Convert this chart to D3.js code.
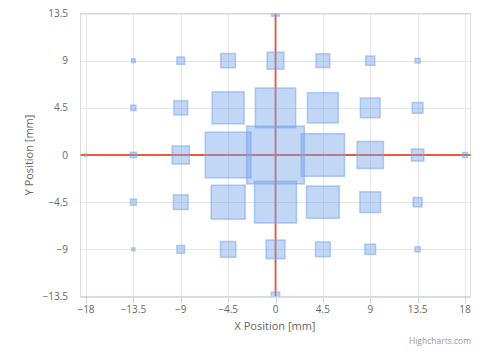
<!DOCTYPE html>
<html>
<head>
<meta charset="utf-8">
<script src="https://cdn.jsdelivr.net/npm/d3@7"></script>
<style>
  html, body { margin: 0; padding: 0; background: #fff; }
  svg { display: block; font-family: "Open Sans", "DejaVu Sans", sans-serif; }
</style>
</head>
<body>
<svg id="chart" width="487" height="354"></svg>
<script>
// ---- data (mm) ----
const xTicks = [-18, -13.5, -9, -4.5, 0, 4.5, 9, 13.5, 18];
const yTicks = [-13.5, -9, -4.5, 0, 4.5, 9, 13.5];

const pointX = [
  -13.5, -9, -4.5, 0, 4.5, 9, 13.5,
  -13.5, -9, -4.5, 0, 4.5, 9, 13.5,
  -18, -13.5, -9, -4.5, 0, 4.5, 9, 13.5, 18,
  -13.5, -9, -4.5, 0, 4.5, 9, 13.5,
  -13.5, -9, -4.5, 0, 4.5, 9, 13.5,
  0, 0
];
const pointY = [
  9, 9, 9, 9, 9, 9, 9,
  4.5, 4.5, 4.5, 4.5, 4.5, 4.5, 4.5,
  0, 0, 0, 0, 0, 0, 0, 0, 0,
  -4.5, -4.5, -4.5, -4.5, -4.5, -4.5, -4.5,
  -9, -9, -9, -9, -9, -9, -9,
  13.5, -13.5
];
const spotWidth = [
  0.35, 0.72, 1.39, 1.59, 1.30, 0.85, 0.47,
  0.50, 1.30, 3.04, 3.83, 2.92, 1.87, 1.02,
  0.20, 0.60, 1.64, 4.34, 5.48, 4.11, 2.50, 1.17, 0.47,
  0.57, 1.40, 3.23, 3.99, 3.11, 1.97, 0.85,
  0.28, 0.73, 1.45, 1.80, 1.40, 1.02, 0.47,
  0.73, 0.79
];
const spotHeight = [
  0.35, 0.70, 1.36, 1.62, 1.31, 0.89, 0.45,
  0.51, 1.34, 3.05, 3.79, 2.89, 1.88, 1.02,
  0.20, 0.51, 1.72, 4.36, 5.51, 4.06, 2.58, 1.15, 0.48,
  0.57, 1.40, 3.24, 3.98, 3.08, 1.98, 0.89,
  0.28, 0.73, 1.50, 1.78, 1.40, 0.98, 0.48,
  0.50, 0.84
];
const xTitle = "X Position [mm]";
const yTitle = "Y Position [mm]";
const credit = "Highcharts.com";

// ---- layout ----
const svg = d3.select("#chart");
const plot = { left: 80.5, right: 470.5, top: 13.5, bottom: 296.5 };

const x = d3.scaleLinear().domain([-18.5, 18.5]).range([80.75, 470.25]);
const y = d3.scaleLinear().domain([-13.5, 13.5]).range([296.5, 13.5]);

const fmt = v => (v < 0 ? "\u2212" + Math.abs(v) : String(v));

svg.append("defs").append("clipPath").attr("id", "clip")
  .append("rect")
  .attr("x", plot.left).attr("y", plot.top)
  .attr("width", plot.right - plot.left).attr("height", plot.bottom - plot.top);

// grid
const grid = svg.append("g");
grid.selectAll("line.vx").data(xTicks).join("line")
  .attr("x1", d => Math.round(x(d)) + 0.5).attr("x2", d => Math.round(x(d)) + 0.5)
  .attr("y1", plot.top).attr("y2", plot.bottom)
  .attr("stroke", "#e6e6e6").attr("stroke-width", 1);
grid.selectAll("line.hy").data(yTicks).join("line")
  .attr("x1", plot.left).attr("x2", plot.right)
  .attr("y1", d => Math.round(y(d)) + 0.5).attr("y2", d => Math.round(y(d)) + 0.5)
  .attr("stroke", "#e6e6e6").attr("stroke-width", 1);

// plot border
svg.append("rect")
  .attr("x", plot.left).attr("y", plot.top)
  .attr("width", plot.right - plot.left).attr("height", plot.bottom - plot.top)
  .attr("fill", "none").attr("stroke", "#dcdcdc").attr("stroke-width", 1);

// red zero lines (below series)
svg.append("line")
  .attr("x1", x(0)).attr("x2", x(0)).attr("y1", plot.top).attr("y2", plot.bottom)
  .attr("stroke", "#f0583c").attr("stroke-width", 1.8);
svg.append("line")
  .attr("x1", plot.left).attr("x2", plot.right).attr("y1", y(0)).attr("y2", y(0))
  .attr("stroke", "#f0583c").attr("stroke-width", 1.8);

// spots
const pts = pointX.map((px, i) => ({ x: px, y: pointY[i], w: spotWidth[i], h: spotHeight[i] }));
svg.append("g").attr("clip-path", "url(#clip)")
  .selectAll("rect").data(pts).join("rect")
  .attr("x", d => x(d.x - d.w / 2))
  .attr("y", d => y(d.y + d.h / 2))
  .attr("width", d => x(d.x + d.w / 2) - x(d.x - d.w / 2))
  .attr("height", d => y(d.y - d.h / 2) - y(d.y + d.h / 2))
  .attr("fill", "rgba(120,165,235,0.45)")
  .attr("stroke", "rgba(120,165,235,0.55)")
  .attr("stroke-width", 1.5);

// x axis line + ticks
svg.append("line")
  .attr("x1", plot.left).attr("x2", plot.right)
  .attr("y1", plot.bottom + 0.5).attr("y2", plot.bottom + 0.5)
  .attr("stroke", "#ccd6eb").attr("stroke-width", 1);
svg.append("g").selectAll("line").data(xTicks).join("line")
  .attr("x1", d => Math.round(x(d)) + 0.5).attr("x2", d => Math.round(x(d)) + 0.5)
  .attr("y1", plot.bottom).attr("y2", plot.bottom + 7)
  .attr("stroke", "#ccd6eb").attr("stroke-width", 1);

// tick labels
svg.append("g").selectAll("text").data(xTicks).join("text")
  .attr("x", d => x(d)).attr("y", 313)
  .attr("text-anchor", "middle")
  .attr("font-size", 10).attr("fill", "#666666")
  .text(fmt);
svg.append("g").selectAll("text").data(yTicks).join("text")
  .attr("x", 68).attr("y", d => y(d)).attr("dy", "0.35em")
  .attr("text-anchor", "end")
  .attr("font-size", 10).attr("fill", "#666666")
  .text(fmt);

// titles
svg.append("text")
  .attr("x", 275).attr("y", 330)
  .attr("text-anchor", "middle")
  .attr("font-size", 11).attr("fill", "#666666")
  .text(xTitle);
svg.append("text")
  .attr("transform", "translate(33,155) rotate(-90)")
  .attr("text-anchor", "middle")
  .attr("font-size", 11).attr("fill", "#666666")
  .text(yTitle);

// credits
svg.append("text")
  .attr("x", 471).attr("y", 344)
  .attr("text-anchor", "end")
  .attr("font-size", 8.5).attr("fill", "#999999")
  .text(credit);
</script>
</body>
</html>
